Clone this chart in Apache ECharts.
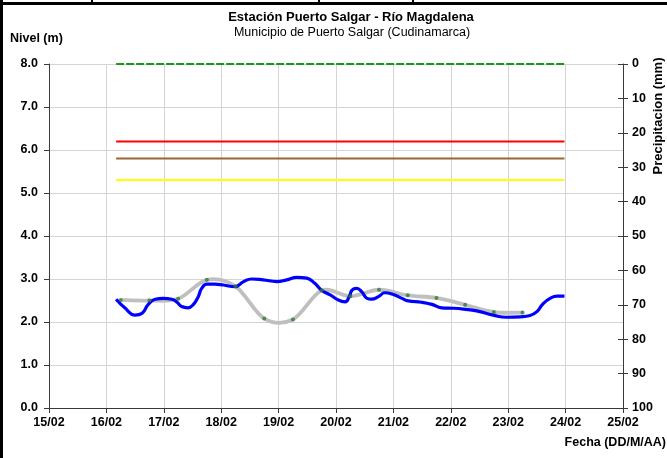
<!DOCTYPE html>
<html>
<head>
<meta charset="utf-8">
<script src="https://cdn.jsdelivr.net/npm/echarts@6/dist/echarts.min.js"></script>
<style>
  html, body { margin: 0; padding: 0; background: #fff; }
  #chart { width: 667px; height: 458px; }
</style>
</head>
<body>
<div id="chart"></div>
<script>
  // fechas: dia de febrero (decimal)
  var dateLabels = ['15/02', '16/02', '17/02', '18/02', '19/02', '20/02', '21/02', '22/02', '23/02', '24/02', '25/02'];
  var levelTicks = ['0.0', '1.0', '2.0', '3.0', '4.0', '5.0', '6.0', '7.0', '8.0'];

  // nivel registrado (azul)
  var levelDays = [16.17, 16.32, 16.50, 16.62, 16.73, 16.85, 16.99, 17.14, 17.23, 17.31, 17.42, 17.51, 17.60, 17.66, 17.75, 17.89,
    18.04, 18.24, 18.39, 18.53, 18.73, 18.97, 19.14, 19.32, 19.49, 19.63, 19.75, 19.90, 20.04, 20.16, 20.23, 20.28, 20.36,
    20.45, 20.54, 20.62, 20.74, 20.85, 21.00, 21.15, 21.26, 21.49, 21.67, 21.84, 22.04, 22.22, 22.45, 22.74, 22.97, 23.21,
    23.38, 23.50, 23.61, 23.73, 23.85, 23.98];
  var levelValues = [2.53, 2.33, 2.16, 2.20, 2.41, 2.53, 2.55, 2.53, 2.46, 2.36, 2.33, 2.40, 2.59, 2.78, 2.88, 2.88,
    2.86, 2.82, 2.94, 3.00, 2.98, 2.94, 2.98, 3.04, 3.02, 2.90, 2.74, 2.63, 2.51, 2.47, 2.59, 2.74, 2.78,
    2.70, 2.55, 2.53, 2.59, 2.68, 2.64, 2.55, 2.49, 2.46, 2.41, 2.33, 2.32, 2.30, 2.26, 2.16, 2.11, 2.12,
    2.15, 2.24, 2.43, 2.55, 2.60, 2.60];

  // lecturas de mira (gris con puntos)
  var readDays = [16.25, 16.75, 17.25, 17.75, 18.25, 18.75, 19.25, 19.75, 20.25, 20.75, 21.25, 21.75, 22.25, 22.75, 23.25];
  var readValues = [2.51, 2.50, 2.54, 2.98, 2.83, 2.08, 2.06, 2.73, 2.60, 2.75, 2.62, 2.56, 2.40, 2.23, 2.22];

  // umbrales
  var thresholdSpan = [16.17, 23.98];
  var thresholdLevels = [8.0, 6.2, 5.8, 5.3];
  var thresholdColors = ['#139a13', '#ff0000', '#996633', '#ffff00'];

  var axisColor = '#3a3a3a';
  var gridColor = '#d4d4d4';
  var labelFont = { color: '#000', fontWeight: 'bold', fontSize: 12.5, fontFamily: 'Liberation Sans' };

  var chart = echarts.init(document.getElementById('chart'));

  // curva suavizada tipo Excel (Catmull-Rom) sobre las coordenadas del eje
  function splinePath(api) {
    var pts = readDays.map(function (d, i) { return api.coord([d, readValues[i]]); });
    var path = 'M' + pts[0][0] + ' ' + pts[0][1];
    for (var i = 0; i < pts.length - 1; i++) {
      var p0 = pts[Math.max(i - 1, 0)], p1 = pts[i], p2 = pts[i + 1], p3 = pts[Math.min(i + 2, pts.length - 1)];
      var c1x = p1[0] + (p2[0] - p0[0]) / 6, c1y = p1[1] + (p2[1] - p0[1]) / 6;
      var c2x = p2[0] - (p3[0] - p1[0]) / 6, c2y = p2[1] - (p3[1] - p1[1]) / 6;
      path += ' C' + c1x + ' ' + c1y + ' ' + c2x + ' ' + c2y + ' ' + p2[0] + ' ' + p2[1];
    }
    return path;
  }

  var series = [];
  thresholdLevels.forEach(function (lv, i) {
    series.push({
      type: 'line',
      data: [[thresholdSpan[0], lv], [thresholdSpan[1], lv]],
      showSymbol: false,
      silent: true,
      lineStyle: { color: thresholdColors[i], width: 2, type: i === 0 ? [8, 2] : 'solid' },
      z: 2
    });
  });

  series.push({
    type: 'custom',
    data: readDays.map(function (d, i) { return [d, readValues[i]]; }),
    renderItem: function (params, api) {
      if (params.dataIndex !== 0) return null;
      return {
        type: 'path',
        shape: { pathData: splinePath(api) },
        style: { fill: 'none', stroke: '#bfbfbf', lineWidth: 3.8 }
      };
    },
    silent: true,
    z: 3
  });

  series.push({
    type: 'line',
    data: levelDays.map(function (d, i) { return [d, levelValues[i]]; }),
    smooth: true,
    showSymbol: false,
    lineStyle: { color: '#0000ff', width: 3.2 },
    z: 4
  });

  series.push({
    type: 'scatter',
    data: readDays.map(function (d, i) { return [d, readValues[i]]; }),
    symbol: 'circle',
    symbolSize: 4,
    itemStyle: { color: '#2e7d32' },
    z: 5
  });

  var option = {
    animation: false,
    grid: { left: 49, right: 44, top: 64, bottom: 50 },
    xAxis: {
      type: 'value',
      min: 15, max: 25, interval: 1,
      axisLine: { onZero: false, lineStyle: { color: axisColor } },
      axisTick: { length: 5, lineStyle: { color: axisColor } },
      axisLabel: Object.assign({ margin: 8, formatter: function (v) { return dateLabels[v - 15]; } }, labelFont),
      splitLine: { show: true, lineStyle: { color: gridColor } }
    },
    yAxis: [
      {
        type: 'value',
        min: 0, max: 8, interval: 1,
        axisLine: { show: true, lineStyle: { color: axisColor } },
        axisTick: { show: true, length: 5, lineStyle: { color: axisColor } },
        axisLabel: Object.assign({ margin: 11, formatter: function (v) { return levelTicks[v]; } }, labelFont),
        splitLine: { show: true, lineStyle: { color: gridColor } }
      },
      {
        type: 'value',
        position: 'right',
        inverse: true,
        min: 0, max: 100, interval: 10,
        axisLine: { show: true, lineStyle: { color: axisColor } },
        axisTick: { show: true, length: 5, lineStyle: { color: axisColor } },
        axisLabel: Object.assign({ margin: 9 }, labelFont),
        splitLine: { show: false }
      },
      {
        type: 'value',
        position: 'right',
        inverse: true,
        min: 0, max: 100, interval: 10,
        axisLine: { show: false },
        axisTick: { show: true, inside: true, length: 5, lineStyle: { color: axisColor } },
        axisLabel: { show: false },
        splitLine: { show: false }
      }
    ],
    graphic: [
      { type: 'rect', shape: { x: 0, y: 0, width: 3, height: 458 }, style: { fill: '#000' } },
      { type: 'rect', shape: { x: 0, y: 2, width: 667, height: 3 }, style: { fill: '#000' } },
      { type: 'rect', shape: { x: 91, y: 0, width: 2, height: 3 }, style: { fill: '#000' } },
      { type: 'rect', shape: { x: 318, y: 0, width: 2, height: 3 }, style: { fill: '#000' } },
      { type: 'rect', shape: { x: 412, y: 0, width: 2, height: 3 }, style: { fill: '#000' } },
      {
        type: 'text', x: 351, y: 17,
        style: { text: 'Estación Puerto Salgar - Río Magdalena', fill: '#000', font: 'bold 13px Liberation Sans', align: 'center', verticalAlign: 'middle' }
      },
      {
        type: 'text', x: 352, y: 33,
        style: { text: 'Municipio de Puerto Salgar (Cudinamarca)', fill: '#000', font: '12.5px Liberation Sans', align: 'center', verticalAlign: 'middle' }
      },
      {
        type: 'text', x: 10, y: 39,
        style: { text: 'Nivel (m)', fill: '#000', font: 'bold 12.5px Liberation Sans', align: 'left', verticalAlign: 'middle' }
      },
      {
        type: 'text', x: 666, y: 443,
        style: { text: 'Fecha (DD/M/AA)', fill: '#000', font: 'bold 12.5px Liberation Sans', align: 'right', verticalAlign: 'middle' }
      },
      {
        type: 'text', x: 658, y: 116, rotation: Math.PI / 2,
        style: { text: 'Precipitacion (mm)', fill: '#000', font: 'bold 13px Liberation Sans', align: 'center', verticalAlign: 'middle' }
      }
    ],
    series: series
  };

  chart.setOption(option);
</script>
</body>
</html>
